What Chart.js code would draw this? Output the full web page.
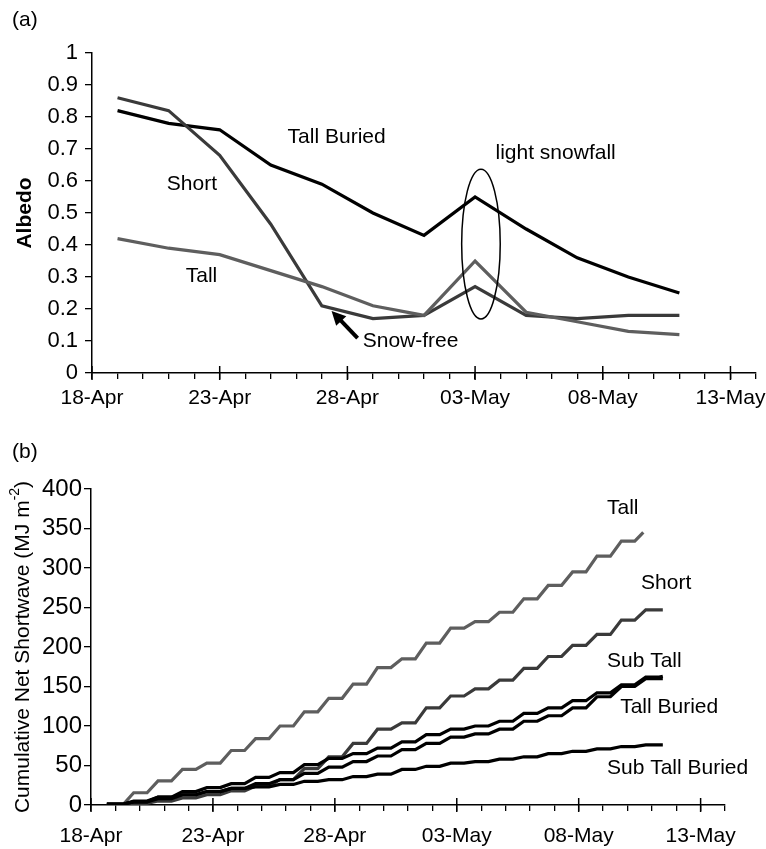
<!DOCTYPE html>
<html>
<head>
<meta charset="utf-8">
<script src="https://cdn.jsdelivr.net/npm/chart.js@4.4.1/dist/chart.umd.min.js"></script>
<style>
  html, body { margin: 0; padding: 0; background: #fff; }
  #wrap { position: relative; width: 766px; height: 849px; }
  .panel { position: absolute; left: 0; width: 766px; }
  #boxA { top: 0; height: 415px; }
  #boxB { top: 415px; height: 434px; }
</style>
</head>
<body>
<div id="wrap">
  <div class="panel" id="boxA"><canvas id="chartA" width="766" height="415"></canvas></div>
  <div class="panel" id="boxB"><canvas id="chartB" width="766" height="434"></canvas></div>
</div>
<script>
// ---- data (days counted from 18-Apr) ----
const dateLabels = ['18-Apr', '23-Apr', '28-Apr', '03-May', '08-May', '13-May'];

// (a) albedo, sampled every second day
const albedoDays = [1, 3, 5, 7, 9, 11, 13, 15, 17, 19, 21, 23];
const albedoTallBuried = [0.82, 0.78, 0.76, 0.65, 0.59, 0.50, 0.43, 0.55, 0.45, 0.36, 0.30, 0.25];
const albedoShort = [0.86, 0.82, 0.68, 0.465, 0.21, 0.17, 0.18, 0.27, 0.18, 0.17, 0.18, 0.18];
const albedoTall = [0.42, 0.39, 0.37, 0.32, 0.27, 0.21, 0.18, 0.35, 0.19, 0.16, 0.13, 0.12];

// (b) cumulative net shortwave, night-time plateau value for day 1, 2, 3 ...
const cumTall = [0, 15.5, 30.5, 45, 53, 69, 84, 100, 118, 135, 153, 174, 185, 205, 224, 232, 244, 261, 278, 295, 315, 334];
const cumShort = [0, 2, 5, 9, 13, 18, 24, 32, 46, 61, 78, 96, 104, 123, 138, 147, 158, 173, 188, 202, 216, 234, 247];
const cumSubTall = [1, 4, 10, 17, 22, 27, 35, 41, 51, 59, 65, 72, 80, 89, 96, 100, 106, 116, 123, 132, 142, 152, 162];
const cumTallBuried = [1, 4, 8, 13, 17, 21, 27, 32, 40, 48, 55, 62, 70, 78, 86, 90, 96, 106, 113, 123, 137, 150, 160];
const cumSubTallBuried = [1, 5, 10, 13, 17, 21, 23, 26, 30, 32, 36, 39, 45, 49, 53, 55, 58, 61, 65, 68, 71, 74, 76];
const cumStartDay = 0.65;
const cumEnd = { tall: [22.65, 345], other: 23.45 };

const FONT = '"Liberation Sans", Arial, Helvetica, sans-serif';
Chart.defaults.font.family = FONT;
Chart.defaults.font.size = 21;
Chart.defaults.color = '#000';

// turn daily plateau values into a stair-like line (flat at night, rising by day)
function stairs(vals, endDay, endVal) {
    const pts = [{ x: cumStartDay, y: vals[0] }];
    vals.forEach(function (v, i) {
        const day = i + 1;
        if (i > 0) pts.push({ x: day - 0.25, y: v });
        pts.push({ x: day + 0.3, y: v });
    });
    pts.push({ x: endDay, y: endVal });
    return pts;
}

function pairs(xs, ys) {
    return xs.map(function (d, i) { return { x: d, y: ys[i] }; });
}

// long ticks crossing the x axis at every 5th day
const majorTicks = {
    id: 'majorTicks',
    afterDraw(chart) {
        const xs = chart.scales.x, ctx = chart.ctx, y0 = chart.chartArea.bottom;
        ctx.save();
        ctx.strokeStyle = '#000';
        ctx.lineWidth = 1.5;
        xs.ticks.forEach(function (t) {
            if (t.value % 5 === 0) {
                const px = xs.getPixelForValue(t.value);
                ctx.beginPath();
                ctx.moveTo(px, y0 - 7);
                ctx.lineTo(px, y0 + 7);
                ctx.stroke();
            }
        });
        ctx.restore();
    }
};

function xAxis(height, pad) {
    return {
        type: 'linear', min: 0, max: 26,
        ticks: {
            stepSize: 1, autoSkip: false, maxRotation: 0, maxTicksLimit: 40, padding: pad,
            callback: function (v) { return v % 5 === 0 ? dateLabels[v / 5] : ''; }
        },
        grid: { drawOnChartArea: false, tickLength: 6, color: '#000', lineWidth: 1.3 },
        border: { color: '#000', width: 1.5 },
        afterFit: function (s) { s.height = height; }
    };
}

function lineSet(data, color) {
    return { data: data, borderColor: color, borderWidth: 3.2, pointRadius: 0, tension: 0, fill: false };
}

// ---- chart (a) ----
const notesA = [
    { text: 'Tall Buried', day: 7.66, val: 0.737 },
    { text: 'Short', day: 2.93, val: 0.59 },
    { text: 'Tall', day: 3.67, val: 0.303 },
    { text: 'light snowfall', day: 15.8, val: 0.6875 },
    { text: 'Snow-free', day: 10.6, val: 0.1 }
];

const extrasA = {
    id: 'extrasA',
    afterDatasetsDraw(chart) {
        const ctx = chart.ctx, x = chart.scales.x, y = chart.scales.y, area = chart.chartArea;
        ctx.save();
        ctx.fillStyle = '#000';
        ctx.strokeStyle = '#000';
        ctx.textBaseline = 'middle';
        ctx.textAlign = 'left';
        ctx.font = '21px ' + FONT;
        notesA.forEach(function (n) {
            ctx.fillText(n.text, x.getPixelForValue(n.day), y.getPixelForValue(n.val));
        });
        ctx.fillText('(a)', 12, 20);

        // ellipse round the snowfall peak
        const cx = x.getPixelForValue(15.23), cy = y.getPixelForValue(0.403);
        const rx = x.getPixelForValue(15.23 + 0.755) - cx;
        const ry = cy - y.getPixelForValue(0.403 + 0.234);
        ctx.lineWidth = 1.5;
        ctx.beginPath();
        ctx.ellipse(cx, cy, rx, ry, 0, 0, Math.PI * 2);
        ctx.stroke();

        // arrow to the snow-free point
        const hx = x.getPixelForValue(9.38), hy = y.getPixelForValue(0.194);
        const tx = x.getPixelForValue(10.4), ty = y.getPixelForValue(0.109);
        const ang = Math.atan2(hy - ty, hx - tx);
        ctx.lineWidth = 4;
        ctx.beginPath();
        ctx.moveTo(tx, ty);
        ctx.lineTo(hx - 8 * Math.cos(ang), hy - 8 * Math.sin(ang));
        ctx.stroke();
        ctx.beginPath();
        ctx.moveTo(hx, hy);
        ctx.lineTo(hx - 14 * Math.cos(ang) + 7 * Math.sin(ang), hy - 14 * Math.sin(ang) - 7 * Math.cos(ang));
        ctx.lineTo(hx - 14 * Math.cos(ang) - 7 * Math.sin(ang), hy - 14 * Math.sin(ang) + 7 * Math.cos(ang));
        ctx.closePath();
        ctx.fill();

        // y title
        ctx.translate(25, (area.top + area.bottom) / 2);
        ctx.rotate(-Math.PI / 2);
        ctx.textAlign = 'center';
        ctx.font = 'bold 21px ' + FONT;
        ctx.fillText('Albedo', 0, 0);
        ctx.restore();
    }
};

new Chart(document.getElementById('chartA'), {
    type: 'line',
    data: {
        datasets: [
            lineSet(pairs(albedoDays, albedoTall), '#5e5e5e'),
            lineSet(pairs(albedoDays, albedoShort), '#3a3a3a'),
            lineSet(pairs(albedoDays, albedoTallBuried), '#000000')
        ]
    },
    options: {
        responsive: false,
        animation: false,
        layout: { padding: { top: 53, right: 10, left: 0, bottom: 0 } },
        plugins: { legend: { display: false }, tooltip: { enabled: false } },
        scales: {
            x: xAxis(42, 7),
            y: {
                min: 0, max: 1,
                ticks: {
                    stepSize: 0.1, padding: 7, font: { size: 22 },
                    callback: function (v) { return String(Math.round(v * 10) / 10); }
                },
                grid: { drawOnChartArea: false, tickLength: 7, color: '#000', lineWidth: 1.3 },
                border: { color: '#000', width: 1.5 },
                afterFit: function (s) { s.width = 92; }
            }
        }
    },
    plugins: [majorTicks, extrasA]
});

// ---- chart (b) ----
const notesB = [
    { text: 'Tall', day: 21.16, val: 376 },
    { text: 'Short', day: 22.56, val: 281 },
    { text: 'Sub Tall', day: 21.16, val: 181.6 },
    { text: 'Tall Buried', day: 21.7, val: 123.8 },
    { text: 'Sub Tall Buried', day: 21.16, val: 46.5 }
];

const extrasB = {
    id: 'extrasB',
    afterDatasetsDraw(chart) {
        const ctx = chart.ctx, x = chart.scales.x, y = chart.scales.y, area = chart.chartArea;
        ctx.save();
        ctx.fillStyle = '#000';
        ctx.textBaseline = 'middle';
        ctx.textAlign = 'left';
        ctx.font = '21px ' + FONT;
        notesB.forEach(function (n) {
            ctx.fillText(n.text, x.getPixelForValue(n.day), y.getPixelForValue(n.val));
        });
        ctx.fillText('(b)', 12, 37);

        // y title with superscript
        const main = 'Cumulative Net Shortwave (MJ m', sup = '-2', close = ')';
        ctx.translate(23, (area.top + area.bottom) / 2);
        ctx.rotate(-Math.PI / 2);
        ctx.font = '21px ' + FONT;
        const w1 = ctx.measureText(main).width, w3 = ctx.measureText(close).width;
        ctx.font = '14px ' + FONT;
        const w2 = ctx.measureText(sup).width;
        let px = -(w1 + w2 + w3) / 2;
        ctx.textAlign = 'left';
        ctx.font = '21px ' + FONT;
        ctx.fillText(main, px, 0);
        px += w1;
        ctx.font = '14px ' + FONT;
        ctx.fillText(sup, px, -8);
        px += w2;
        ctx.font = '21px ' + FONT;
        ctx.fillText(close, px, 0);
        ctx.restore();
    }
};

new Chart(document.getElementById('chartB'), {
    type: 'line',
    data: {
        datasets: [
            lineSet(stairs(cumSubTallBuried, cumEnd.other, 76), '#000000'),
            lineSet(stairs(cumTallBuried, cumEnd.other, 160), '#000000'),
            lineSet(stairs(cumSubTall, cumEnd.other, 163), '#000000'),
            lineSet(stairs(cumShort, cumEnd.other, 247), '#3a3a3a'),
            lineSet(stairs(cumTall, cumEnd.tall[0], cumEnd.tall[1]), '#5e5e5e')
        ]
    },
    options: {
        responsive: false,
        animation: false,
        layout: { padding: { top: 74, right: 41, left: 0, bottom: 0 } },
        plugins: { legend: { display: false }, tooltip: { enabled: false } },
        scales: {
            x: xAxis(44, 13),
            y: {
                min: 0, max: 400,
                ticks: { stepSize: 50, padding: 2, font: { size: 24 } },
                grid: { drawOnChartArea: false, tickLength: 7, color: '#000', lineWidth: 1.3 },
                border: { color: '#000', width: 1.5 },
                afterFit: function (s) { s.width = 91; }
            }
        }
    },
    plugins: [majorTicks, extrasB]
});
</script>
</body>
</html>
